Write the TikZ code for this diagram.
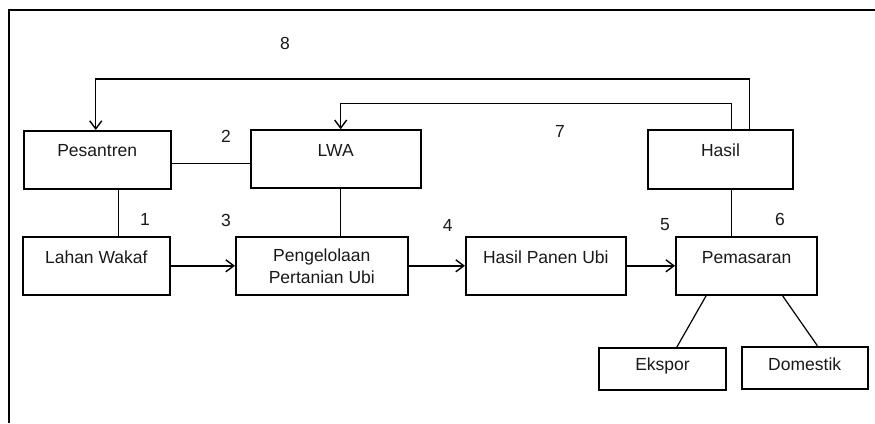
\documentclass[tikz,border=0pt]{standalone}
\usepackage{fontspec}
\setmainfont{Liberation Sans}
\usetikzlibrary{arrows.meta}
\begin{document}
\begin{tikzpicture}[x=1pt,y=-1pt,
  box/.style={draw,line width=2pt,inner sep=0pt,minimum width=#1},
  box/.default=140pt,
  txt/.style={font=\fontsize{17.5}{21}\selectfont,inner sep=0pt,text=black!90},
  conn/.style={line width=1.2pt},
  arr/.style={line width=1.4pt,-{Straight Barb[length=8pt,width=12pt,line width=1.4pt]}},
  num/.style={font=\fontsize{17.5}{21}\selectfont,inner sep=0pt,text=black!90}]
\useasboundingbox (0,0) rectangle (875,423);
% frame
\draw[line width=2pt] (9,423) -- (9,10) -- (876,10);
% boxes
\node[box=147pt,minimum height=58pt] (pes) at (97.2,160) {};
\node[txt] (pest) at (97.2,151) {Pesantren};
\node[box=170pt,minimum height=58pt] (lwa) at (335.7,159.2) {};
\node[txt] (lwat) at (335.7,150.5) {LWA};
\node[box=145.6pt,minimum height=58.7pt] (hasil) at (720.5,159.3) {};
\node[txt] (hasilt) at (720.5,150.5) {Hasil};
\node[box=147.3pt,minimum height=58.3pt] (lahan) at (96.3,265.8) {};
\node[txt] (lahant) at (96.3,257.3) {Lahan Wakaf};
\node[box=171.7pt,minimum height=58.3pt] (peng) at (321.8,265.8) {};
\node[txt,align=center] (pengt) at (321.8,265.8) {Pengelolaan\\[1pt]Pertanian Ubi};
\node[box=159.7pt,minimum height=58.3pt] (panen) at (545.8,265.8) {};
\node[txt] (panent) at (545.8,257.3) {Hasil Panen Ubi};
\node[box=141.3pt,minimum height=58.3pt] (pem) at (746.7,265.8) {};
\node[txt] (pemt) at (746.7,257.3) {Pemasaran};
\node[box=126.4pt,minimum height=41.7pt] (eks) at (662.5,369.2) {};
\node[txt] (ekst) at (662.5,365.7) {Ekspor};
\node[box=126pt,minimum height=42.3pt] (dom) at (804.7,367.8) {};
\node[txt] (domt) at (804.7,364.3) {Domestik};
% connectors
\draw[conn] (pes.east |- 0,163.3) -- (lwa.west |- 0,163.3);
\draw[conn] (pes.south -| 118.3,0) -- (lahan.north -| 118.3,0);
\draw[conn] (lwa.south -| 340.5,0) -- (peng.north -| 340.5,0);
\draw[conn] (hasil.south -| 731.7,0) -- (pem.north -| 731.7,0);
\draw[arr] (lahan.east) -- (peng.west);
\draw[arr] (peng.east) -- (panen.west);
\draw[arr] (panen.east) -- (pem.west);
\draw[conn] (pem.south -| 706,0) -- (eks.north -| 676.7,0);
\draw[conn] (pem.south -| 782.7,0) -- (dom.north -| 817.3,0);
\draw[arr] (hasil.north -| 749.3,0) -- (749.3,79) -- (95.7,79) -- (pes.north -| 95.7,0);
\draw[arr] (hasil.north -| 731.7,0) -- (731.7,103.3) -- (340.7,103.3) -- (lwa.north -| 340.7,0);
% numbers
\node[num] (n8) at (285,43.3) {8};
\node[num] (n2) at (226,136.7) {2};
\node[num] (n7) at (560,131.7) {7};
\node[num] (n1) at (145,219.3) {1};
\node[num] (n3) at (226,220.7) {3};
\node[num] (n4) at (447.7,225) {4};
\node[num] (n5) at (665,225) {5};
\node[num] (n6) at (780,219.3) {6};
\end{tikzpicture}
\end{document}
